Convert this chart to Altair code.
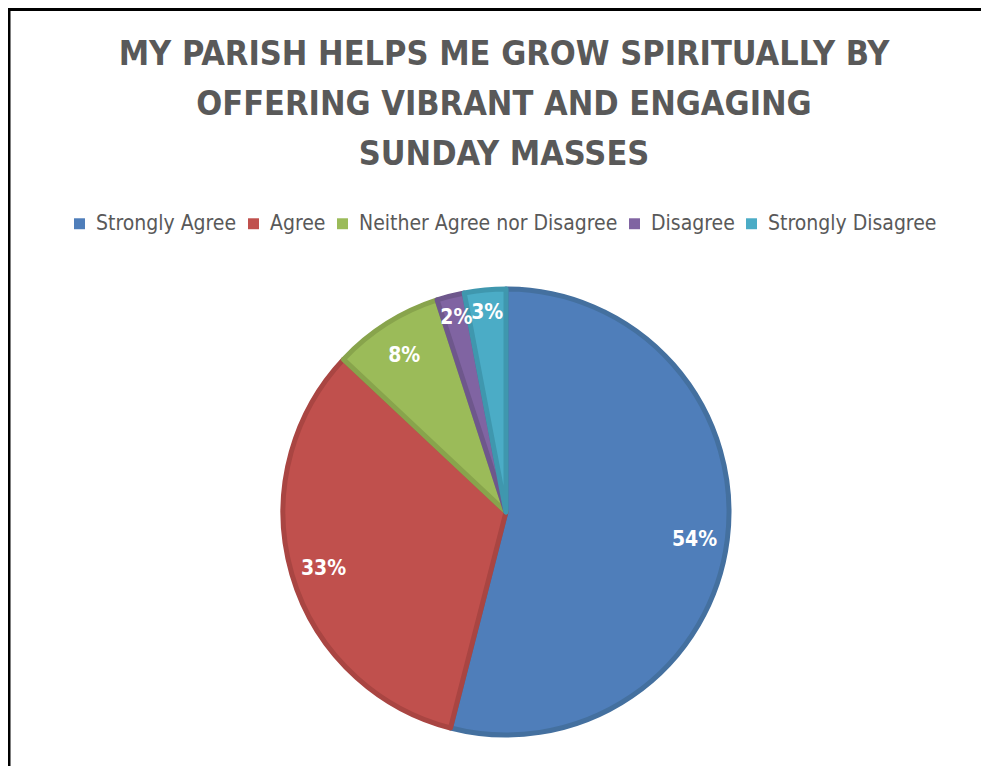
import altair as alt
import pandas as pd

categories = ["Strongly Agree", "Agree", "Neither Agree nor Disagree", "Disagree", "Strongly Disagree"]
values = [54, 33, 8, 2, 3]
colors = ["#4F7EBA", "#C0504D", "#9BBB59", "#8064A2", "#4BACC6"]
edge_colors = ["#44709F", "#A94542", "#88A44C", "#6E578C", "#3F97AE"]
title_lines = ["MY PARISH HELPS ME GROW SPIRITUALLY BY", "OFFERING VIBRANT AND ENGAGING", "SUNDAY MASSES"]

FONT = "DejaVu Sans Condensed, Liberation Sans Narrow, sans-serif"

df = pd.DataFrame({
    "category": categories,
    "value": values,
    "idx": list(range(len(categories))),
    "label": [f"{v}%" for v in values],
})

CX, CY = 498, 504

color_enc = alt.Color(
    "category:N",
    scale=alt.Scale(domain=categories, range=colors),
    legend=alt.Legend(
        orient="none", legendX=61, legendY=205, direction="horizontal", title=None,
        symbolType="square", symbolSize=120, symbolStrokeWidth=0,
        labelFontSize=21, labelFont=FONT, labelColor="#595959", labelLimit=0,
        columnPadding=6, labelOffset=6,
    ),
)
stroke_enc = alt.Stroke("category:N", scale=alt.Scale(domain=categories, range=edge_colors), legend=None)
theta_enc = alt.Theta("value:Q", stack=True)
order_enc = alt.Order("idx:Q")

base = alt.Chart(df)

pie = base.mark_arc(radius=223, strokeWidth=5, strokeJoin="round").encode(
    theta=theta_enc, color=color_enc, stroke=stroke_enc, order=order_enc,
    x=alt.value(CX), y=alt.value(CY),
)

big_labels = base.mark_text(radius=190, font=FONT, fontSize=21, fontWeight="bold", color="white").encode(
    theta=theta_enc, order=order_enc,
    text=alt.condition(alt.datum.value >= 5, "label:N", alt.value("")),
    x=alt.value(CX), y=alt.value(CY + 4),
)
small_labels = base.mark_text(radius=200, font=FONT, fontSize=21, fontWeight="bold", color="white").encode(
    theta=theta_enc, order=order_enc,
    text=alt.condition(alt.datum.value < 5, "label:N", alt.value("")),
    x=alt.value(CX), y=alt.value(CY),
)

title_df = pd.DataFrame({"t": ["\n".join(title_lines)]})
title = alt.Chart(title_df).mark_text(
    font=FONT, fontSize=34, fontWeight="bold", color="#595959",
    lineBreak="\n", lineHeight=50, align="center", baseline="middle",
).encode(text="t:N", x=alt.value(496), y=alt.value(47))

frame = alt.Chart(pd.DataFrame({"a": [0]})).mark_rect(
    fillOpacity=0, stroke="black", strokeWidth=3
).encode(x=alt.value(1), y=alt.value(1.5), x2=alt.value(1000), y2=alt.value(1000))

chart = alt.layer(frame, title, pie, big_labels, small_labels).properties(
    width=973, height=758, padding=0, autosize=alt.AutoSizeParams(type="none")
).configure_view(strokeWidth=0).resolve_scale(theta="shared")

chart.save("out.html", embed_options={"renderer": "svg", "actions": False})
